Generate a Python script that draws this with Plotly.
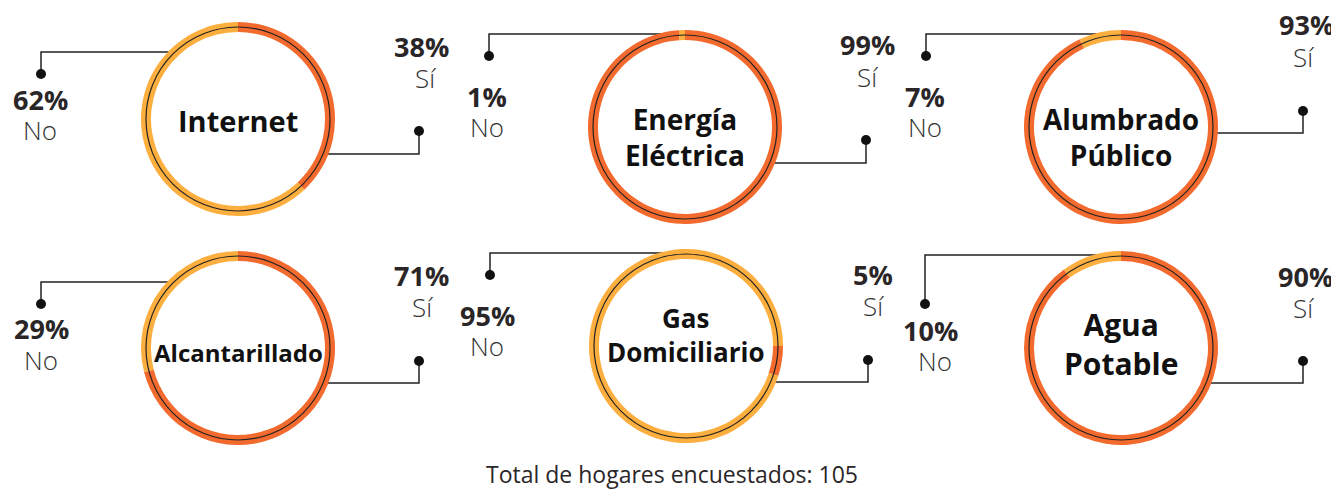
import plotly.graph_objects as go

# page body has an 8px default margin; the figure is sized to fill the rest
PAGE_W, PAGE_H = 1339, 489
OFF = 8
W, H = PAGE_W - OFF, PAGE_H - OFF

services = ["Internet", "Energía<br>Eléctrica", "Alumbrado<br>Público",
            "Alcantarillado", "Gas<br>Domiciliario", "Agua<br>Potable"]
si_pct = [38, 99, 93, 71, 5, 90]
no_pct = [62, 1, 7, 29, 95, 10]
label_si = "Sí"
label_no = "No"
footer = "Total de hogares encuestados: 105"

ORANGE = "#F26A2D"
LIGHT = "#FCAE3E"
INK = "#222222"

# layout (page pixels)
centers = [(238, 119), (685, 127), (1121, 127), (238, 348), (686, 346), (1121, 348)]
R = 97
RING = 10
rotations = [0, 0, 0, 0, 90, 0]
title_sizes = [29, 28, 28, 24, 26, 30]
title_dy = [1, 10, 10, 4, -11, -4]
# leader lines: (no_y, no_dot_x, no_dot_y, si_y, si_dot_x, si_dot_y)
leaders = [(52, 41, 74, 154, 419, 131),
           (34, 489, 56, 163, 866, 140),
           (34, 926, 56, 133, 1303, 111),
           (282, 41, 304, 383, 419, 361),
           (253, 490, 275, 382, 868, 360),
           (255, 925, 304, 383, 1303, 361)]
# label positions (pct_x, pct_y, lab_x, lab_y) for No and Sí
no_pos = [(40, 99, 40, 130), (487, 96, 487, 127), (925, 96, 925, 127),
          (41, 328, 41, 360), (487, 315, 487, 346), (930, 330, 935, 361)]
si_pos = [(421, 46, 425, 78), (868, 45, 868, 77), (1306, 25, 1303, 57),
          (421, 275, 423, 307), (873, 274, 873, 306), (1305, 276, 1303, 308)]


def px(x):
    return (x - OFF) / W


def py(y):
    return 1 - (y - OFF) / H


fig = go.Figure()

for i, (cx, cy) in enumerate(centers):
    ny, ndx, ndy, sy, sdx, sdy = leaders[i]
    rr = R - RING / 2
    nx0 = cx - max(0, (rr ** 2 - (ny - cy) ** 2)) ** 0.5
    sx0 = cx + max(0, (rr ** 2 - (sy - cy) ** 2)) ** 0.5
    fig.add_trace(go.Scatter(x=[nx0, ndx, ndx], y=[ny, ny, ndy], mode="lines",
                             line=dict(color=INK, width=1.5), hoverinfo="skip",
                             showlegend=False))
    fig.add_trace(go.Scatter(x=[sx0, sdx, sdx], y=[sy, sy, sdy], mode="lines",
                             line=dict(color=INK, width=1.5), hoverinfo="skip",
                             showlegend=False))
    fig.add_trace(go.Scatter(x=[ndx, sdx], y=[ndy, sdy], mode="markers",
                             marker=dict(color="#111111", size=10), hoverinfo="skip",
                             showlegend=False))

for i, (cx, cy) in enumerate(centers):
    fig.add_trace(go.Pie(
        values=[si_pct[i], no_pct[i]], labels=[label_si, label_no],
        marker=dict(colors=[ORANGE, LIGHT], line=dict(width=0)),
        hole=(R - RING) / R, sort=False, direction="clockwise",
        rotation=rotations[i], textinfo="none", showlegend=False,
        domain=dict(x=[px(cx - R), px(cx + R)], y=[py(cy + R), py(cy - R)]),
    ))
    rr = R - RING / 2
    fig.add_shape(type="circle", xref="paper", yref="paper",
                  x0=px(cx - rr), x1=px(cx + rr), y0=py(cy + rr), y1=py(cy - rr),
                  line=dict(color=INK, width=1.2), layer="above")
    fig.add_annotation(x=px(cx), y=py(cy + title_dy[i]), xref="paper", yref="paper",
                       text=f"<b>{services[i]}</b>", showarrow=False,
                       font=dict(family="Open Sans", size=title_sizes[i], color="#111111"),
                       xanchor="center", yanchor="middle")
    for (ptx, pty, lx, ly), pct, lab in ((no_pos[i], no_pct[i], label_no),
                                         (si_pos[i], si_pct[i], label_si)):
        fig.add_annotation(x=px(ptx), y=py(pty), xref="paper", yref="paper",
                           text=f"<b>{pct}%</b>", showarrow=False,
                           font=dict(family="Open Sans", size=27, color="#2a2627"),
                           xanchor="center", yanchor="middle")
        fig.add_annotation(x=px(lx), y=py(ly), xref="paper", yref="paper",
                           text=lab, showarrow=False,
                           font=dict(family="Open Sans", size=26, color="#333333",
                                     weight=300),
                           xanchor="center", yanchor="middle")

fig.add_annotation(x=px(672), y=py(474), xref="paper", yref="paper",
                   text=footer, showarrow=False,
                   font=dict(family="Open Sans", size=23, color="#2a2627", weight=500),
                   xanchor="center", yanchor="middle")

fig.update_layout(
    width=W, height=H, margin=dict(l=0, r=0, t=0, b=0),
    paper_bgcolor="white", plot_bgcolor="rgba(0,0,0,0)",
    xaxis=dict(range=[OFF, PAGE_W], visible=False, fixedrange=True),
    yaxis=dict(range=[PAGE_H, OFF], visible=False, fixedrange=True),
)

fig.write_html("out.html")
